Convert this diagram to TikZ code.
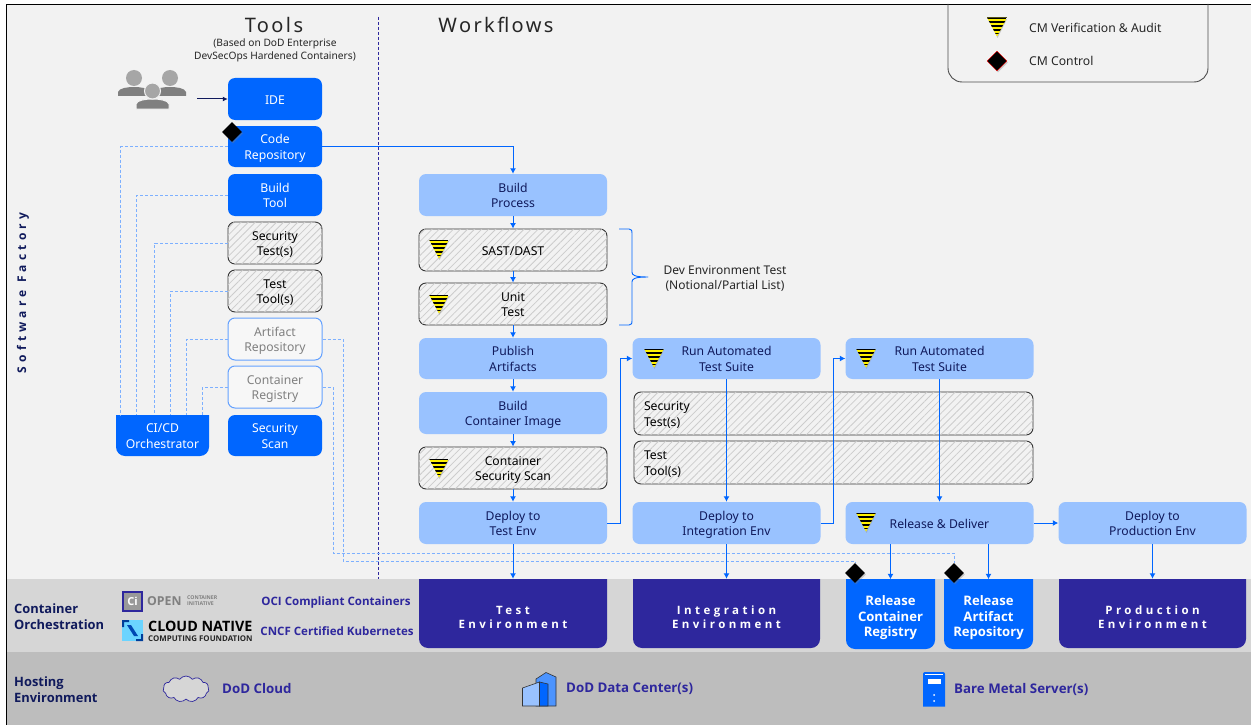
\documentclass[tikz,border=0pt]{standalone}
\usepackage{fontspec}
\setmainfont{Noto Sans}[BoldFont={Open Sans Bold}]
\usetikzlibrary{arrows.meta,calc,patterns.meta,shapes.geometric,shapes.symbols,shadows}
\definecolor{cmblue}{HTML}{0066FF}
\definecolor{cmlight}{HTML}{99C2FF}
\definecolor{cmpurple}{HTML}{2E279D}
\definecolor{cmnavy}{HTML}{101A5C}
\definecolor{cmdash}{HTML}{7DB0FF}
\newcommand{\fs}[1]{\fontsize{#1}{1.31\dimexpr #1pt\relax}\selectfont}
\newcommand{\bt}[1]{\rule{0pt}{13.5pt}#1\rule[-3.5pt]{0pt}{3.5pt}}
\newcommand{\et}[1]{\rule{0pt}{17pt}#1}
\newcommand{\rt}[1]{\rule{0pt}{18pt}#1\rule[-2pt]{0pt}{2pt}}
\newcommand{\sq}[5]{\fill[#5] (#1,#2) -- (#3,#2) -- (#3,#4-9) arc[start angle=0,end angle=-90,radius=9pt] -- (#1+9,#4) arc[start angle=-90,end angle=-180,radius=9pt] -- cycle;}
\tikzset{
  basebox/.style={rounded corners=7pt,inner sep=0pt,align=center,font=\fs{12.2}},
  toolbox/.style={basebox,fill=cmblue,text=white,minimum width=94pt,minimum height=42pt},
  hatchbox/.style={basebox,draw=black!80,line width=.9pt,text=black,
     postaction={pattern={Lines[angle=45,distance=5pt,line width=.8pt]},pattern color=black!20}},
  toolhatch/.style={hatchbox,minimum width=94pt,minimum height=42pt},
  flowhatch/.style={hatchbox,minimum width=188pt,minimum height=42pt},
  widehatch/.style={hatchbox,minimum width=399pt,minimum height=43pt,text width=379pt,align=left},
  ghostbox/.style={basebox,fill=black!3,draw=cmdash!80!cmblue,line width=1pt,text=black!50,minimum width=94pt,minimum height=42pt},
  flowbox/.style={basebox,fill=cmlight,text=cmnavy,minimum width=188pt,minimum height=42pt},
  envlabel/.style={inner sep=0pt,align=center,text=white,font=\fontsize{11.5}{14}\selectfont\bfseries\addfontfeature{LetterSpace=30},minimum height=69pt},
  rellabel/.style={inner sep=0pt,align=center,text=white,font=\fontsize{13.1}{15.5}\selectfont\bfseries,minimum width=89pt,minimum height=69pt},
  bandtext/.style={inner sep=0pt,align=left,anchor=west,text=cmnavy,font=\fontsize{12.9}{15.7}\selectfont\bfseries},
  hosttext/.style={inner sep=0pt,anchor=west,text=cmpurple,font=\fs{13.3}\bfseries},
  ocitext/.style={inner sep=0pt,text=cmpurple,font=\fs{11.55}\bfseries},
  plain/.style={inner sep=0pt,align=center,text=black!85,font=\fs{12}},
  flow/.style={cmblue,line width=1pt,-{Latex[length=5.5pt,width=6pt]}},
  link/.style={cmdash,line width=1pt,dash pattern=on 3pt off 2pt},
  cmdiamond/.style={diamond,fill=black,inner sep=0pt,minimum size=20pt,drop shadow={shadow xshift=1pt,shadow yshift=-1.5pt,opacity=.35}},
  cmfunnel/.pic={
    \fill[black!40,opacity=.5] (-9,-8) -- (10,-8) -- (.5,11) -- cycle;
    \begin{scope}
      \clip (-10,-9.5) -- (10,-9.5) -- (0,9.5) -- cycle;
      \fill[yellow] (-10,-9.5) rectangle (10,9.5);
      \foreach \yy in {-9.5,-5.7,-1.9,1.9,5.7}{\fill[black] (-10,\yy) rectangle (10,\yy+1.7);}
    \end{scope}
  }
}
\begin{document}
\begin{tikzpicture}[x=1pt,y=-1pt]
\useasboundingbox (0,0) rectangle (1251,725);
% backgrounds
\fill[white] (0,0) rectangle (1251,725);
\fill[black!5] (6,4) rectangle (1251,579);
\fill[black!16] (6,579) rectangle (1251,652);
\fill[black!26] (6,652) rectangle (1251,725);
\draw[black,line width=1pt] (1251,4.5) -- (6.5,4.5) -- (6.5,725);
% divider
\coordinate (divtop) at (378,17);
\coordinate (divbot) at (378,579);
\draw[cmpurple,line width=.8pt,dash pattern=on 3pt off 2pt] (divtop) -- (divbot);
% titles
\node[inner sep=0pt,font=\fs{20}\addfontfeature{LetterSpace=12},text=black!85] (tools) at (274,25) {Tools};
\node[inner sep=0pt,font=\fs{20}\addfontfeature{LetterSpace=12},text=black!85] (wf) at (496,25) {Workflows};
\node[plain,font=\fs{10.2}] (sub) at (275,50.5) {(Based on DoD Enterprise\\[-.5pt]DevSecOps Hardened Containers)};
\node[rotate=90,inner sep=0pt,text=cmnavy,font=\fs{12}\bfseries\addfontfeature{LetterSpace=35}] (sf) at (23,293) {Software Factory};
% legend
\draw[black!70,line width=.9pt,rounded corners=14pt] (948,4) -- (948,82) -- (1208,82) -- (1208,4);
\pic at (997,27) {cmfunnel};
\node[cmdiamond,minimum size=20pt,draw=red,line width=.3pt] (legd) at (997,61) {};
\node[plain,anchor=west,font=\fs{12.2}] (legt1) at (1029,28) {CM Verification \& Audit};
\node[plain,anchor=west,font=\fs{12.2}] (legt2) at (1029,61) {CM Control};
% people
\fill[black!50] (118,96) -- (118,92) .. controls (119,88) and (128,87) .. (134,87) .. controls (140,87) and (149,88) .. (150,92) -- (150,96) -- cycle;
\fill[black!50] (154,96) -- (154,92) .. controls (155,88) and (164,87) .. (170,87) .. controls (176,87) and (185,88) .. (186,92) -- (186,96) -- cycle;
\fill[black!35] (134,78) circle[radius=8pt];
\fill[black!35] (170,78) circle[radius=8pt];
\draw[black!5,line width=1pt,fill=black!50] (136,109) -- (136,104) .. controls (137,100) and (146,99) .. (152.5,99) .. controls (159,99) and (168,100) .. (169,104) -- (169,109) -- cycle;
\draw[black!5,line width=1pt,fill=black!35] (152.5,91) circle[radius=8pt];
\coordinate (people) at (197,99);
% tools
\node[toolbox] (ide) at (275,99) {\bt{IDE}};
\node[toolbox,minimum height=41pt] (code) at (275,146.5) {\bt{Code\\Repository}};
\node[toolbox] (buildt) at (275,195) {\bt{Build\\Tool}};
\node[toolhatch] (sect) at (275,243) {\bt{Security\\Test(s)}};
\node[toolhatch] (testt) at (275,291) {\bt{Test\\Tool(s)}};
\node[ghostbox] (art) at (275,339) {\bt{Artifact\\Repository}};
\node[ghostbox] (reg) at (275,387) {\bt{Container\\Registry}};
\node[toolbox,minimum height=41pt] (scan) at (275,435.5) {\bt{Security\\Scan}};
\sq{116}{415}{209}{456}{cmblue}
\node[inner sep=0pt,align=center,text=white,font=\fs{12.2},minimum width=93pt,minimum height=41pt] (cicd) at (162.5,435.5) {\bt{CI/CD\\Orchestrator}};
% workflow
\node[flowbox] (bp) at (513,195) {\bt{Build\\Process}};
\node[flowhatch] (sast) at (513,250) {\bt{SAST/DAST}};
\node[flowhatch] (unit) at (513,304) {\bt{Unit\\Test}};
\node[flowbox,minimum height=41pt] (pub) at (513,358.5) {\bt{Publish\\Artifacts}};
\node[flowbox] (bci) at (513,413) {\bt{Build\\Container Image}};
\node[flowhatch] (css) at (513,468) {\bt{Container\\Security Scan}};
\node[flowbox] (dte) at (513,523) {\bt{Deploy to\\Test Env}};
\node[flowbox,minimum height=41pt] (run1) at (726.5,358.5) {\bt{Run Automated\\Test Suite}};
\node[flowbox,minimum height=41pt] (run2) at (939.5,358.5) {\bt{Run Automated\\Test Suite}};
\node[widehatch] (wsec) at (833.5,413.5) {\bt{Security\\Test(s)}};
\node[widehatch] (wtest) at (833.5,462.5) {\bt{Test\\Tool(s)}};
\node[flowbox] (die) at (726.5,523) {\bt{Deploy to\\Integration Env}};
\node[flowbox] (rel) at (939.5,523) {\bt{Release \& Deliver}};
\node[flowbox] (dpe) at (1152.5,523) {\bt{Deploy to\\Production Env}};
\pic at (439,249) {cmfunnel};
\pic at (439,304) {cmfunnel};
\pic at (439,468) {cmfunnel};
\pic at (654,358) {cmfunnel};
\pic at (866,358) {cmfunnel};
\pic at (866,522) {cmfunnel};
% brace
\draw[cmblue,line width=.9pt,line join=round] (619,229) -- (629,229) .. controls (632,229) and (632,231) .. (632,233) -- (632,272) .. controls (632,275) and (634,277) .. (648,277) .. controls (634,277) and (632,279) .. (632,282) -- (632,321) .. controls (632,323) and (632,325) .. (629,325) -- (619,325);
\node[plain] (devnote) at (725,277) {\bt{Dev Environment Test\\(Notional/Partial List)}};
% environments
\sq{419}{579}{607}{648}{cmpurple}
\sq{633}{579}{820}{648}{cmpurple}
\sq{846}{579}{935}{649}{cmblue}
\sq{944}{579}{1033}{649}{cmblue}
\sq{1059}{579}{1246}{648}{cmpurple}
\node[envlabel,minimum width=188pt] (te) at (513,613.5) {\et{Test\\Environment}};
\node[envlabel,minimum width=187pt] (ie) at (726.5,613.5) {\et{Integration\\Environment}};
\node[rellabel] (rcr) at (890.5,614) {\rt{Release\\Container\\Registry}};
\node[rellabel] (rar) at (988.5,614) {\rt{Release\\Artifact\\Repository}};
\node[envlabel,minimum width=187pt] (pe) at (1152.5,613.5) {\et{Production\\Environment}};
% dashed links
\draw[link] (code.west) -| ($(cicd.north west)+(5,0)$);
\draw[link] (buildt.west) -| ($(cicd.north west)+(21,0)$);
\draw[link] (sect.west) -| ($(cicd.north west)+(39,0)$);
\draw[link] (testt.west) -| ($(cicd.north west)+(55,0)$);
\draw[link] (art.west) -| ($(cicd.north west)+(71,0)$);
\draw[link] (reg.west) -| ($(cicd.north west)+(87,0)$);
\node[cmdiamond] (d1) at (232,132) {};
\node[cmdiamond] (d2) at (855,573) {};
\node[cmdiamond] (d3) at (954,573) {};
\coordinate (r1) at (333,553);
\coordinate (r2) at (343,561);
\draw[link] (art.east) -| (r2) -| (d2.north);
\draw[link] (reg.east) -| (r1) -| (d3.north);
% flow
\draw[cmnavy,line width=1pt,-{Latex[length=5pt,width=5pt]}] (people) -- (ide.west);
\draw[flow] (code.east) -| (bp.north);
\draw[flow] (bp) -- (sast);
\draw[flow] (sast) -- (unit);
\draw[flow] (unit) -- (pub);
\draw[flow] (pub) -- (bci);
\draw[flow] (bci) -- (css);
\draw[flow] (css) -- (dte);
\draw[flow] (dte.south) -- (te.north);
\coordinate (j1) at (620,0);
\coordinate (j2) at (833,0);
\draw[flow] (dte.east) -- (dte.east -| j1) -- (run1.west -| j1) -- (run1.west);
\draw[flow] (run1.south) -- (die.north);
\draw[flow] (die.south) -- (ie.north);
\draw[flow] (die.east) -- (die.east -| j2) -- (run2.west -| j2) -- (run2.west);
\draw[flow] (run2.south) -- (rel.north);
\draw[flow] (rel.east) -- (dpe.west);
\draw[flow] (dpe.south) -- (pe.north);
\draw[flow] (rel.south -| rcr.north) -- (rcr.north);
\draw[flow] (rel.south -| rar.north) -- (rar.north);
% band text
\node[bandtext] (co) at (14,617) {Container\\Orchestration};
\node[bandtext] (he) at (14,689.5) {Hosting\\Environment};
% OCI logo
\draw[cmpurple,line width=1.6pt,fill=black!40] (123,592) rectangle (142,611);
\node[inner sep=0pt,text=white,font=\fs{11}\bfseries] (cilogo) at (132.5,601.5) {Ci};
\node[inner sep=0pt,anchor=west,text=black!50,font=\fs{12.3}\bfseries] (open) at (147,601) {OPEN};
\node[inner sep=0pt,anchor=west,align=left,text=black!50,font=\fontsize{5.2}{6.2}\selectfont\bfseries] (ocismall) at (187,601) {CONTAINER\\INITIATIVE};
% CNCF logo
\fill[cmlight!70!cyan] (122,620) rectangle (143,641);
\fill[cmblue!60!black] (122,620) -- (129,620) -- (129,622) -- (124,622) -- (124,627) -- (122,627) -- cycle;
\fill[cmblue!60!black] (143,641) -- (136,641) -- (136,639) -- (141,639) -- (141,634) -- (143,634) -- cycle;
\fill[cmblue!70!black] (127,625) -- (131,625) -- (138,636) -- (134,636) -- cycle;
\node[inner sep=0pt,anchor=west,text=black,font=\fontsize{14.3}{15}\selectfont\bfseries] (cn1) at (148,626.5) {CLOUD NATIVE};
\node[inner sep=0pt,anchor=west,text=black!85,font=\fs{7.9}\bfseries] (cn2) at (148,638.5) {COMPUTING FOUNDATION};
\node[ocitext] (oci) at (336,602) {OCI Compliant Containers};
\node[ocitext] (cncf) at (337,631) {CNCF Certified Kubernetes};
% hosting
\node[cloud,cloud puffs=11,cloud puff arc=110,aspect=1.8,draw=cmpurple,fill=black!16,line width=.7pt,minimum width=46pt,minimum height=26pt,inner sep=0pt] (cloudicon) at (186,689) {};
\node[hosttext] (h1) at (222,689) {DoD Cloud};
\fill[cmblue!70!white,draw=black!80,line width=.6pt] (536,679) -- (546,672.5) -- (556,677) -- (556,706) -- (536,706) -- cycle;
\fill[cmlight,draw=black!80,line width=.6pt] (522.5,688) -- (539.5,682) -- (539.5,706) -- (522.5,706) -- cycle;
\fill[cmblue,draw=black!80,line width=.6pt] (539.5,682) -- (548,684) -- (548,706) -- (539.5,706) -- cycle;
\node[hosttext] (h2) at (566,689) {DoD Data Center(s)};
\fill[cmblue] (923,706.5) -- (923,674) arc[start angle=180,end angle=90,radius=2pt] -- (943,672) arc[start angle=90,end angle=0,radius=2pt] -- (945,706.5) -- cycle;
\draw[white,line width=.6pt] (925,674.5) -- (943,674.5);
\fill[white] (927.5,679) rectangle (941,684);
\fill[white] (934,695) circle[radius=1pt];
\fill[white] (934,701) circle[radius=1pt];
\node[hosttext] (h3) at (954,689) {Bare Metal Server(s)};
\end{tikzpicture}
\end{document}
